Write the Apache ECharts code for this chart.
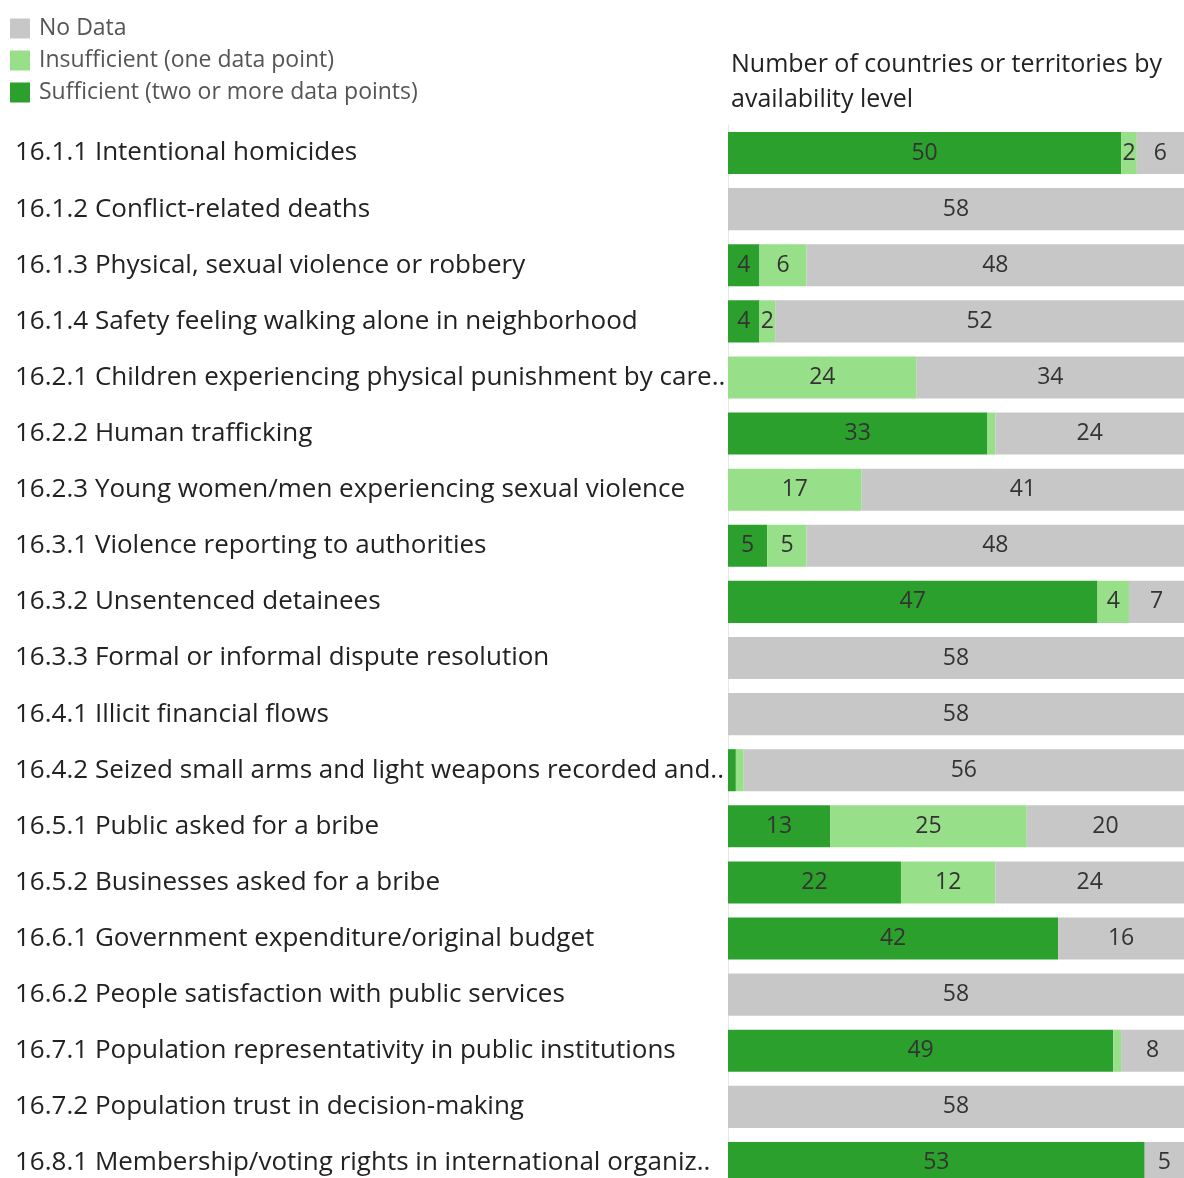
<!DOCTYPE html>
<html><head><meta charset="utf-8">
<script src="https://cdn.jsdelivr.net/npm/echarts@6/dist/echarts.min.js"></script>
<style>html,body{margin:0;padding:0;background:#fff;overflow:hidden}#c{width:1184px;height:1191px}</style>
</head><body><div id="c"></div>
<script>
const categories = [
  "16.1.1 Intentional homicides",
  "16.1.2 Conflict-related deaths",
  "16.1.3 Physical, sexual violence or robbery",
  "16.1.4 Safety feeling walking alone in neighborhood",
  "16.2.1 Children experiencing physical punishment by care..",
  "16.2.2 Human trafficking",
  "16.2.3 Young women/men experiencing sexual violence",
  "16.3.1 Violence reporting to authorities",
  "16.3.2 Unsentenced detainees",
  "16.3.3 Formal or informal dispute resolution",
  "16.4.1 Illicit financial flows",
  "16.4.2 Seized small arms and light weapons recorded and..",
  "16.5.1 Public asked for a bribe",
  "16.5.2 Businesses asked for a bribe",
  "16.6.1 Government expenditure/original budget",
  "16.6.2 People satisfaction with public services",
  "16.7.1 Population representativity in public institutions",
  "16.7.2 Population trust in decision-making",
  "16.8.1 Membership/voting rights in international organiz.."
];
const sufficient   = [50, 0, 4, 4, 0, 33, 0, 5, 47, 0, 0, 1, 13, 22, 42, 0, 49, 0, 53];
const insufficient = [2, 0, 6, 2, 24, 1, 17, 5, 4, 0, 0, 1, 25, 12, 0, 0, 1, 0, 0];
const noData       = [6, 58, 48, 52, 34, 24, 41, 48, 7, 58, 58, 56, 20, 24, 16, 58, 8, 58, 5];
const titleText = "Number of countries or territories by\navailability level";

const font = "'Open Sans', 'Noto Sans', sans-serif";
const lbl = {
  show: true, position: 'inside', color: '#333', fontSize: 23, fontFamily: font,
  formatter: p => p.value >= 2 ? String(p.value) : ''
};
const chart = echarts.init(document.getElementById('c'), null, {renderer: 'canvas'});
chart.setOption({
  animation: false,
  title: {
    text: titleText, left: 726, top: 42, padding: 5,
    textStyle: {fontSize: 25, fontWeight: 'normal', color: '#222', fontFamily: font, lineHeight: 35}
  },
  legend: {
    orient: 'vertical', left: 5, top: 11, itemWidth: 20, itemHeight: 20, itemGap: 7,
    data: ['No Data', 'Insufficient (one data point)', 'Sufficient (two or more data points)'],
    textStyle: {fontSize: 23, color: '#555', fontFamily: font, lineHeight: 25, padding: [0, 0, 0, 4]},
    itemStyle: {borderWidth: 0},
    icon: 'rect', selectedMode: false
  },
  grid: {left: 728, right: 0, top: 125, bottom: 0, containLabel: false},
  xAxis: {type: 'value', min: 0, max: 58, show: false},
  yAxis: {
    type: 'category', data: categories, inverse: true,
    axisLine: {show: true, lineStyle: {color: '#e6e6e6'}},
    axisTick: {show: false},
    axisLabel: {align: 'left', margin: 713, fontSize: 26, color: '#222', fontFamily: font}
  },
  series: [
    {name: 'Sufficient (two or more data points)', type: 'bar', stack: 't', data: sufficient,
     itemStyle: {color: '#2ca02c'}, barCategoryGap: '25%', label: lbl},
    {name: 'Insufficient (one data point)', type: 'bar', stack: 't', data: insufficient,
     itemStyle: {color: '#98df8a'}, label: lbl},
    {name: 'No Data', type: 'bar', stack: 't', data: noData,
     itemStyle: {color: '#c7c7c7'}, label: lbl}
  ]
});
</script></body></html>
